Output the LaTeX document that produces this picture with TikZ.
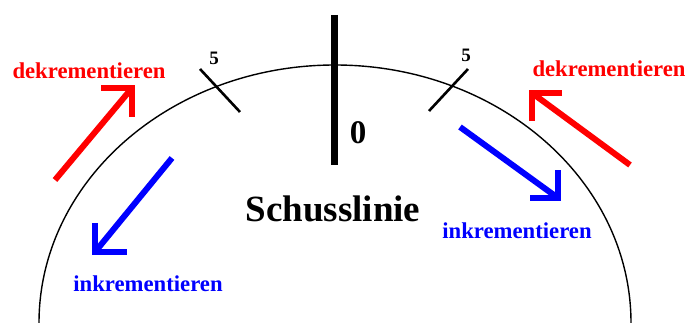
\documentclass[tikz,border=0pt]{standalone}
\usepackage{fontspec}
\setmainfont{Liberation Serif}
\usepackage{tikz}
\usepackage{xcolor}

\begin{document}
\begin{tikzpicture}[x=1pt,y=1pt,
  strich/.style={line width=2.6pt},
  pfeil/.style={line width=6pt,line join=miter},
  txt/.style={anchor=base,inner sep=0pt,font=\bfseries\fontsize{22.7}{26}\selectfont}]
\useasboundingbox (0,0) rectangle (698,323);
\draw[line width=1.4pt] (39,0) arc[start angle=180,end angle=0,x radius=296,y radius=258];
\draw[line width=7pt] (334,308)--(334,158);
\draw[strich] (200,254)--(240,211);
\draw[strich] (468,254)--(429,212);
\node[anchor=base,inner sep=0pt,font=\bfseries\fontsize{19}{22}\selectfont] (fuenfL) at (214,258) {5};
\node[anchor=base,inner sep=0pt,font=\bfseries\fontsize{19}{22}\selectfont] (fuenfR) at (466,261) {5};
\node[anchor=base,inner sep=0pt,font=\bfseries\fontsize{33}{36}\selectfont] (null) at (358,179) {0};
\node[anchor=base,inner sep=0pt,font=\bfseries\fontsize{37}{40}\selectfont] (linie) at (333,101) {Schusslinie};
\node[txt,red] (dekL) at (89,244) {dekrementieren};
\node[txt,red] (dekR) at (609,246) {dekrementieren};
\node[txt,blue] (inkL) at (148,31) {inkrementieren};
\node[txt,blue] (inkR) at (517,84) {inkrementieren};
\coordinate (rotL) at (132,235);
\coordinate (rotR) at (532,230);
\coordinate (blauL) at (95,71);
\coordinate (blauR) at (558,125);
\draw[pfeil,red] (55,143)--(rotL);
\draw[pfeil,red] (rotL) ++(-31,0)--(rotL)--++(0,-29);
\draw[pfeil,red] (630,158)--(rotR);
\draw[pfeil,red] (rotR) ++(30,0)--(rotR)--++(0,-28);
\draw[pfeil,blue] (172,165)--(blauL);
\draw[pfeil,blue] (blauL) ++(0,29)--(blauL)--++(32,0);
\draw[pfeil,blue] (460,196)--(blauR);
\draw[pfeil,blue] (blauR) ++(-28,0)--(blauR)--++(0,28);
\end{tikzpicture}
\end{document}
